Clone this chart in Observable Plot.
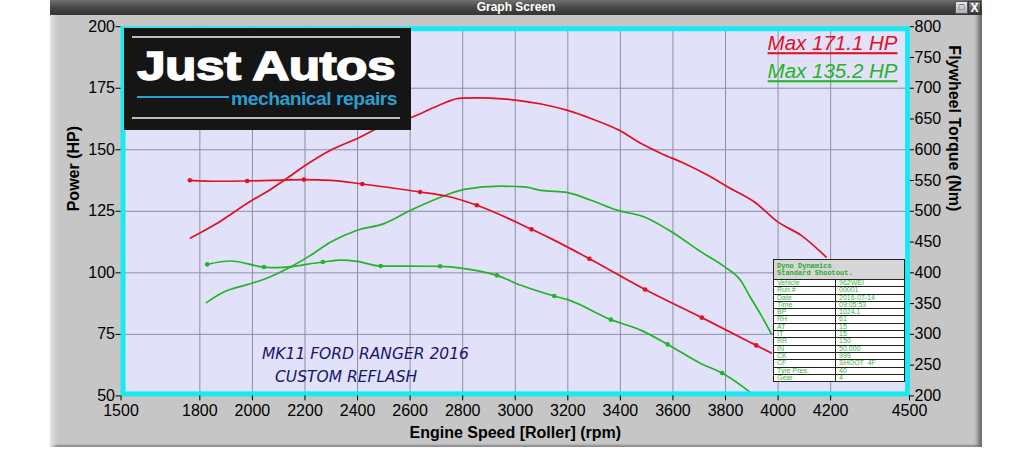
<!DOCTYPE html>
<html>
<head>
<meta charset="utf-8">
<script src="https://cdn.jsdelivr.net/npm/d3@7"></script>
<script src="https://cdn.jsdelivr.net/npm/@observablehq/plot@0.6"></script>
<style>
html,body{margin:0;padding:0;background:#fff;}
#wrap{position:relative;width:1035px;height:450px;overflow:hidden;font-family:"Liberation Sans",Arial,sans-serif;}
#win{position:absolute;left:50px;top:0;width:932px;height:447px;background:#c6c6c6;
  box-shadow: inset 8px 0 5px -4px #e4e4e4, inset -7px 0 4px -3px #6a6a6a, inset 0 -3px 2px -1px #8a8a8a;}
#bar{position:absolute;left:50px;top:0;width:932px;height:15px;background:linear-gradient(#707070,#444 55%,#333);
  color:#fff;font:bold 12px "Liberation Sans Narrow","Liberation Sans",sans-serif;text-align:center;line-height:15px;}
#btn1{position:absolute;left:955px;top:1px;width:13px;height:13px;background:linear-gradient(#e8e8e8,#b0b0b0);border:1px solid #555;box-sizing:border-box;font:bold 9px "Liberation Sans";color:#333;text-align:center;line-height:11px;}
#btn2{position:absolute;left:968px;top:1px;width:13px;height:13px;background:linear-gradient(#888,#444);border:1px solid #333;box-sizing:border-box;font:bold 12px "Liberation Sans Narrow","Liberation Sans";color:#fff;text-align:center;line-height:12px;}
#chart{position:absolute;left:0;top:0;}
#logo{position:absolute;left:124px;top:28px;width:287px;height:102px;background:#151515;}
.gl{position:absolute;left:8px;width:268px;height:2px;background:#bcbcbc;}
#ja{position:absolute;left:13px;top:16px;height:40px;line-height:40px;color:#fff;font:bold 40px "Liberation Sans",Arial,sans-serif;white-space:nowrap;transform-origin:0 0;letter-spacing:-0.5px;-webkit-text-stroke:1.4px #fff;}
#bl{position:absolute;left:13px;top:68px;width:92px;height:2px;background:#2a9fd2;}
#mr{position:absolute;left:107px;top:60px;height:19px;line-height:19px;color:#2a9fd2;font:bold 19px "Liberation Sans Narrow","Liberation Sans",sans-serif;white-space:nowrap;transform-origin:0 0;letter-spacing:-0.5px;}
#info{position:absolute;left:773px;top:259px;width:131px;border-collapse:collapse;background:#fff;
  font:7px "Liberation Sans",Arial,sans-serif;color:#3cb43c;table-layout:fixed;}
#info td{border:1px solid #222;height:6.3px;padding:0 0 0 3px;line-height:6.3px;overflow:hidden;white-space:nowrap;}
#info td.hd{background:#d6d6d6;height:19px;font:bold 7px "Liberation Mono","DejaVu Sans Mono",monospace;line-height:7px;color:#2fa82f;padding-left:3px;vertical-align:middle;}
</style>
</head>
<body>
<div id="wrap">
  <div id="win"></div>
  <div id="bar">Graph Screen</div>
  <div id="btn1">&#9633;</div>
  <div id="btn2">X</div>
  <div id="chart"></div>
  <div id="logo">
    <div class="gl" style="top:8px"></div>
    <div id="ja">Just Autos</div>
    <div id="bl"></div>
    <div id="mr">mechanical repairs</div>
    <div class="gl" style="top:89px"></div>
  </div>
  <table id="info"></table>
</div>
<script>
// ---- axis ticks ----
const rpmTicks = [1500,1800,2000,2200,2400,2600,2800,3000,3200,3400,3600,3800,4000,4200,4500];
const rpmGrid = [1800,2000,2200,2400,2600,2800,3000,3200,3400,3600,3800,4000,4200];
const powerTicks = [50,75,100,125,150,175,200];
const powerGrid = [75,100,125,150,175];
const torqueTicks = [200,250,300,350,400,450,500,550,600,650,700,750,800];

// ---- run 1 (red) ----
const redPowerRpm = [1764,1853,1999,2050,2126,2202,2297,2399,2501,2609,2704,2793,2869,2920,3009,3098,3199,3288,3396,3479,3555,3644,3733,3809,3910,3999,4088,4183];
const redPowerHp  = [114.1,119.3,129.5,132.6,138.0,143.7,149.8,154.6,160.0,163.3,167.8,171.0,171.1,170.9,170.1,168.6,166.0,162.7,157.9,152.5,148.5,144.4,139.6,134.9,128.8,120.7,115.2,106.4];
const redTorqueRpm = [1762,1870,1980,2196,2298,2418,2638,2742,2854,3062,3136,3282,3494,3710,3917,3974];
const redTorqueNm  = [550.4,548.8,549.3,551.5,550.4,544.4,531.4,524.4,509.8,470.7,455.6,423.0,373.0,327.2,282.1,269.6];
const redTorqueMarks = [1762,1980,2196,2418,2638,2854,3062,3282,3494,3710,3917];

// ---- run 2 (green) ----
const greenPowerRpm = [1825,1891,1980,2044,2145,2221,2298,2399,2501,2602,2704,2806,2945,3034,3098,3199,3288,3390,3491,3606,3707,3796,3857,3895,3936,3974];
const greenPowerHp  = [87.9,92.2,95.2,97.4,102.4,107.1,112.5,117.3,120.0,125.4,130.2,133.9,135.2,134.9,133.5,132.6,129.5,125.4,122.7,115.9,108.5,102.5,97.0,90.0,82.7,75.3];
const greenTorqueRpm = [1828,1917,2044,2095,2268,2336,2399,2488,2714,2806,2930,3022,3148,3199,3364,3479,3580,3707,3787,3898];
const greenTorqueNm  = [413.8,419.2,409.4,408.4,417.6,420.8,418.7,411.0,410.6,406.8,395.9,379.7,362.3,356.4,323.9,306.5,283.7,252.4,237.1,204.6];
const greenTorqueMarks = [1828,2044,2268,2488,2714,2930,3148,3364,3580,3787];

// ---- texts ----
const maxLabels = ["Max 171.1 HP","Max 135.2 HP"];
const noteLines = ["MK11 FORD RANGER 2016","CUSTOM REFLASH"];
const infoTitle = ["Dyno Dynamics","Standard Shootout."];
const infoLabels = ["Vehicle","Run #","Date","Time","BP","RH","AT","IT","RR","IN","CK","CF","Tyre Pres.","Gear"];
const infoValues = ["962WEI","00001","2016-07-14","09:05:53","1024.1","61","15","15","150","50.000","999","SHOOT  4F","40","4"];

const RED = "#e3101e", GREEN = "#25b425";
// torque (Nm) shares the power axis: 200..800 Nm  <->  50..200 HP
const nmToHp = t => 50 + (t - 200) / 4;
const hpToNm = h => 200 + (h - 50) * 4;

const pts = (xs, ys, marks) => xs.map((x, i) => ({x, y: ys[i], mark: marks ? marks.includes(x) : false}));
const redP = pts(redPowerRpm, redPowerHp);
const redT = pts(redTorqueRpm, redTorqueNm, redTorqueMarks);
const greenP = pts(greenPowerRpm, greenPowerHp);
const greenT = pts(greenTorqueRpm, greenTorqueNm, greenTorqueMarks);

const lineOpts = (c) => ({x: "x", y: "y", stroke: c, strokeWidth: 1.7, curve: "monotone-x"});
const torqueOpts = (c) => ({x: "x", y: d => nmToHp(d.y), stroke: c, strokeWidth: 1.7, curve: "monotone-x"});

const chart = Plot.plot({
  width: 1035, height: 450,
  marginLeft: 120.5, marginRight: 126, marginTop: 26.2, marginBottom: 54.6,
  x: {domain: [1500, 4500]},
  y: {domain: [50, 200]},
  style: {background: "transparent", fontFamily: "'Liberation Sans', Arial, sans-serif", fontSize: "16px", color: "#000", overflow: "visible"},
  marks: [
    Plot.frame({fill: "#e1e1fa"}),
    Plot.gridX(rpmGrid, {stroke: "#8e8ea2", strokeOpacity: 1, strokeWidth: 1}),
    Plot.gridY(powerGrid, {stroke: "#8e8ea2", strokeOpacity: 1, strokeWidth: 1}),
    Plot.line(greenP, lineOpts(GREEN)),
    Plot.line(greenT, torqueOpts(GREEN)),
    Plot.dot(greenT.filter(d => d.mark), {x: "x", y: d => nmToHp(d.y), r: 2.3, fill: GREEN}),
    Plot.line(redP, lineOpts(RED)),
    Plot.line(redT, torqueOpts(RED)),
    Plot.dot(redT.filter(d => d.mark), {x: "x", y: d => nmToHp(d.y), r: 2.3, fill: RED}),
    Plot.frame({stroke: "#1ae8f2", strokeWidth: 5, inset: 2}),
    Plot.axisX(rpmTicks, {tickSize: 5, tickPadding: 4, label: null, fontSize: 16, tickFormat: d => String(d)}),
    Plot.axisY(powerTicks, {anchor: "left", tickSize: 5, tickPadding: 1, label: null, fontSize: 16, tickFormat: d => String(d)}),
    Plot.axisY(torqueTicks.map(nmToHp), {anchor: "right", tickSize: 4, tickPadding: 1, label: null, fontSize: 16, tickFormat: d => String(Math.round(hpToNm(d)))}),
    Plot.text(["Power (HP)"], {frameAnchor: "left", rotate: -90, dx: -47.5, fontWeight: "bold", fontSize: 16, fill: "#000"}),
    Plot.text(["Flywheel Torque (Nm)"], {frameAnchor: "right", rotate: 90, dx: 45, fontWeight: "bold", fontSize: 16, fill: "#000"}),
    Plot.text(["Engine Speed [Roller] (rpm)"], {frameAnchor: "bottom", dy: 42, fontWeight: "bold", fontSize: 16, fill: "#000"}),
    Plot.text([maxLabels[0]], {frameAnchor: "top-right", dx: -12, dy: 23.5, lineAnchor: "bottom", textAnchor: "end", fill: RED, fontStyle: "italic", fontSize: 20.5}),
    Plot.text([maxLabels[1]], {frameAnchor: "top-right", dx: -12, dy: 51.5, lineAnchor: "bottom", textAnchor: "end", fill: GREEN, fontStyle: "italic", fontSize: 20.5}),
    Plot.text([noteLines[0]], {frameAnchor: "bottom-left", dx: 141, dy: -36.5, lineAnchor: "bottom", textAnchor: "start", fill: "#16166e", fontStyle: "italic", fontFamily: "DejaVu Sans", fontSize: 15.5}),
    Plot.text([noteLines[1]], {frameAnchor: "bottom-left", dx: 154, dy: -13.5, lineAnchor: "bottom", textAnchor: "start", fill: "#16166e", fontStyle: "italic", fontFamily: "DejaVu Sans", fontSize: 15.5})
  ]
});
d3.select(chart).selectAll("text").filter(function(){ return this.textContent.startsWith("Max"); })
  .style("text-decoration", "underline");
document.getElementById("chart").appendChild(chart);

// info table
const tbl = d3.select("#info");
const colg = tbl.append("colgroup");
colg.append("col").style("width", "62px");
colg.append("col").style("width", "69px");
tbl.append("tr").append("td").attr("class", "hd").attr("colspan", 2).html(infoTitle.join("<br>"));
infoLabels.forEach((l, i) => {
  const tr = tbl.append("tr");
  tr.append("td").text(l);
  tr.append("td").text(infoValues[i]).style("white-space", "pre");
});

// fit logo texts to their widths
function fit(id, w) {
  const el = document.getElementById(id);
  const cw = el.getBoundingClientRect().width;
  el.style.transform = `scaleX(${w / cw})`;
}
fit("ja", 258);
fit("mr", 166);
</script>
</body>
</html>
